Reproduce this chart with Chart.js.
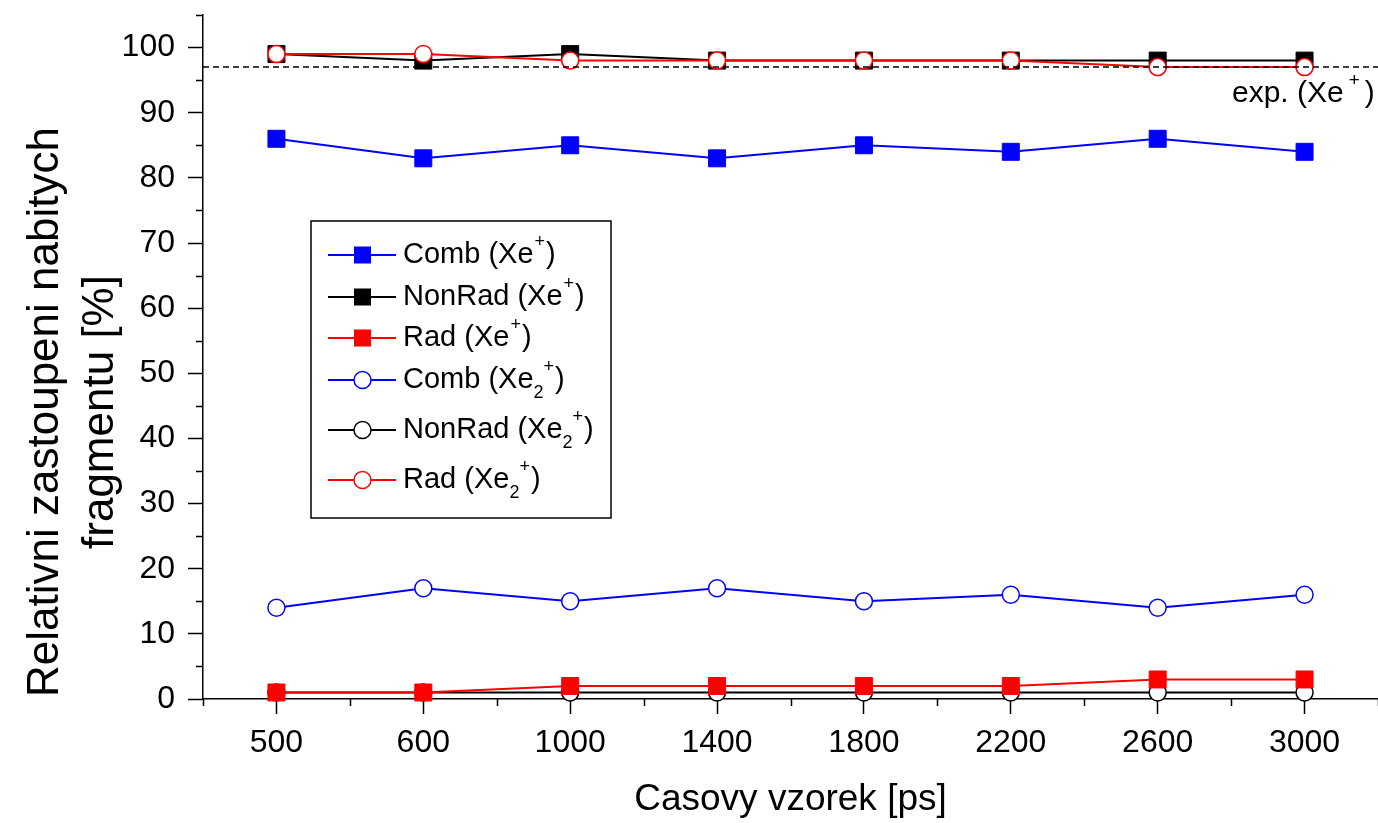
<!DOCTYPE html>
<html>
<head>
<meta charset="utf-8">
<script src="https://cdn.jsdelivr.net/npm/chart.js@4.4.1/dist/chart.umd.min.js"></script>
<style>
  html, body { margin: 0; padding: 0; background: #fff; }
  #wrap { width: 1378px; height: 823px; position: relative; }
</style>
</head>
<body>
<div id="wrap"><canvas id="chart"></canvas></div>
<script>
const categories = ['500', '600', '1000', '1400', '1800', '2200', '2600', '3000'];

const combXe    = [86, 83, 85, 83, 85, 84, 86, 84];
const nonRadXe  = [99, 98, 99, 98, 98, 98, 98, 98];
const radXe     = [1, 1, 2, 2, 2, 2, 3, 3];
const combXe2   = [14, 17, 15, 17, 15, 16, 14, 16];
const nonRadXe2 = [1, 1, 1, 1, 1, 1, 1, 1];
const radXe2    = [99, 99, 98, 98, 98, 98, 97, 97];

const expLevel = 97;   // dashed experimental line
const yMax = 105;

const FONT = '"Liberation Sans", Arial, sans-serif';
const BLUE = '#0000ff', BLACK = '#000000', RED = '#ff0000';

// legend text pieces: [text, kind]  kind: n = normal, sup, sub
const xeParts  = name => [[name + ' (Xe', 'n'], ['+', 'sup'], [')', 'n']];
const xe2Parts = name => [[name + ' (Xe', 'n'], ['2', 'sub'], ['+', 'sup'], [')', 'n']];

function richText(ctx, parts, x, y, size, supGap) {
  supGap = supGap || 1;
  ctx.textBaseline = 'middle';
  ctx.textAlign = 'left';
  for (const [t, k] of parts) {
    const s = k === 'n' ? size : Math.round(size * 0.62);
    ctx.font = s + 'px ' + FONT;
    const dy = k === 'sup' ? -size * 0.45 : (k === 'sub' ? size * 0.44 : 0);
    if (k === 'sup') x += supGap;
    ctx.fillText(t, x, y + dy);
    x += ctx.measureText(t).width;
    if (k === 'sup') x += supGap;
    if (k === 'sub') x -= 1;
  }
  return x;
}

function square(color, order, data, label) {
  return {
    label, data, order,
    borderColor: color, backgroundColor: color, borderWidth: 2,
    pointStyle: 'rect', pointRadius: 12, pointHoverRadius: 12,
    pointBackgroundColor: color, pointBorderColor: color, pointBorderWidth: 1,
    clip: false
  };
}
function circle(color, order, data, label) {
  return {
    label, data, order,
    borderColor: color, backgroundColor: '#fff', borderWidth: 2,
    pointStyle: 'circle', pointRadius: 8.5, pointHoverRadius: 8.5,
    pointBackgroundColor: '#fff', pointBorderColor: color, pointBorderWidth: 1.5,
    clip: false
  };
}

const datasets = [
  square(BLUE, 5, combXe, 'Comb (Xe+)'),
  square(BLACK, 3, nonRadXe, 'NonRad (Xe+)'),
  square(RED, 1, radXe, 'Rad (Xe+)'),
  circle(BLUE, 4, combXe2, 'Comb (Xe2+)'),
  circle(BLACK, 2, nonRadXe2, 'NonRad (Xe2+)'),
  circle(RED, 0, radXe2, 'Rad (Xe2+)')
];

const legendItems = [
  { parts: xeParts('Comb'),    color: BLUE,  style: 'rect',   y: 255 },
  { parts: xeParts('NonRad'),  color: BLACK, style: 'rect',   y: 297 },
  { parts: xeParts('Rad'),     color: RED,   style: 'rect',   y: 338 },
  { parts: xe2Parts('Comb'),   color: BLUE,  style: 'circle', y: 380 },
  { parts: xe2Parts('NonRad'), color: BLACK, style: 'circle', y: 430 },
  { parts: xe2Parts('Rad'),    color: RED,   style: 'circle', y: 480 }
];

const extras = {
  id: 'extras',
  afterDraw(chart) {
    const { ctx, chartArea: a, scales: { x, y } } = chart;
    ctx.save();
    ctx.strokeStyle = BLACK;
    ctx.lineWidth = 1.5;

    // minor ticks
    ctx.beginPath();
    for (let v = 5; v <= yMax; v += 10) {
      const py = Math.round(y.getPixelForValue(v)) + 0.5;
      ctx.moveTo(a.left - 7, py);
      ctx.lineTo(a.left, py);
    }
    for (let i = 0; i <= categories.length; i++) {
      const px = Math.round(x.getPixelForValue(i - 0.5)) + 0.5;
      ctx.moveTo(px, a.bottom);
      ctx.lineTo(px, a.bottom + 7);
    }
    ctx.stroke();

    // experimental level
    const ey = y.getPixelForValue(expLevel);
    ctx.setLineDash([6, 4]);
    ctx.beginPath();
    ctx.moveTo(a.left, ey);
    ctx.lineTo(a.right, ey);
    ctx.stroke();
    ctx.setLineDash([]);

    ctx.fillStyle = BLACK;
    richText(ctx, [['exp. (Xe', 'n'], ['+', 'sup'], [')', 'n']], 1232, ey + 27, 30, 5);

    // legend box
    ctx.lineWidth = 1.5;
    ctx.strokeRect(311, 221, 300, 297);
    for (const it of legendItems) {
      ctx.strokeStyle = it.color;
      ctx.lineWidth = 2;
      ctx.beginPath();
      ctx.moveTo(328, it.y);
      ctx.lineTo(396, it.y);
      ctx.stroke();
      if (it.style === 'rect') {
        ctx.fillStyle = it.color;
        ctx.fillRect(354, it.y - 8.5, 17, 17);
      } else {
        ctx.fillStyle = '#fff';
        ctx.lineWidth = 1.5;
        ctx.beginPath();
        ctx.arc(362.5, it.y, 8.5, 0, Math.PI * 2);
        ctx.fill();
        ctx.stroke();
      }
      ctx.fillStyle = BLACK;
      richText(ctx, it.parts, 403, it.y, 29);
    }

    // y axis title (two lines)
    ctx.fillStyle = BLACK;
    ctx.font = '44px ' + FONT;
    ctx.textAlign = 'center';
    ctx.textBaseline = 'middle';
    ctx.translate(46, 412);
    ctx.rotate(-Math.PI / 2);
    ctx.fillText('Relativni zastoupeni nabitych', 0, 0);
    ctx.fillText('fragmentu [%]', 0, 55);
    ctx.restore();
  }
};

new Chart(document.getElementById('chart'), {
  type: 'line',
  data: { labels: categories, datasets },
  options: {
    responsive: true,
    maintainAspectRatio: false,
    animation: false,
    events: [],
    layout: { autoPadding: false, padding: { top: 15, right: 0, left: 0, bottom: 0 } },
    plugins: { legend: { display: false }, tooltip: { enabled: false } },
    scales: {
      x: {
        type: 'category',
        offset: true,
        afterFit(s) { s.height = 124; s.paddingLeft = 0; s.paddingRight = 0; },
        grid: { display: true, drawOnChartArea: false, offset: false, tickLength: 15, tickWidth: 1.5, tickColor: BLACK },
        border: { display: true, color: BLACK, width: 1.5 },
        ticks: { color: BLACK, padding: 10, maxRotation: 0, font: { family: FONT, size: 32 } },
        title: { display: true, text: 'Casovy vzorek [ps]', color: BLACK, padding: { top: 0, bottom: 1 }, font: { family: FONT, size: 37 } }
      },
      y: {
        min: 0,
        max: yMax,
        afterFit(s) { s.width = 203; s.paddingTop = 0; s.paddingBottom = 0; },
        grid: { display: true, drawOnChartArea: false, tickLength: 15, tickWidth: 1.5, tickColor: BLACK },
        border: { display: true, color: BLACK, width: 1.5 },
        ticks: { stepSize: 10, includeBounds: false, color: BLACK, padding: 13, font: { family: FONT, size: 32 } }
      }
    }
  },
  plugins: [extras]
});
</script>
</body>
</html>
